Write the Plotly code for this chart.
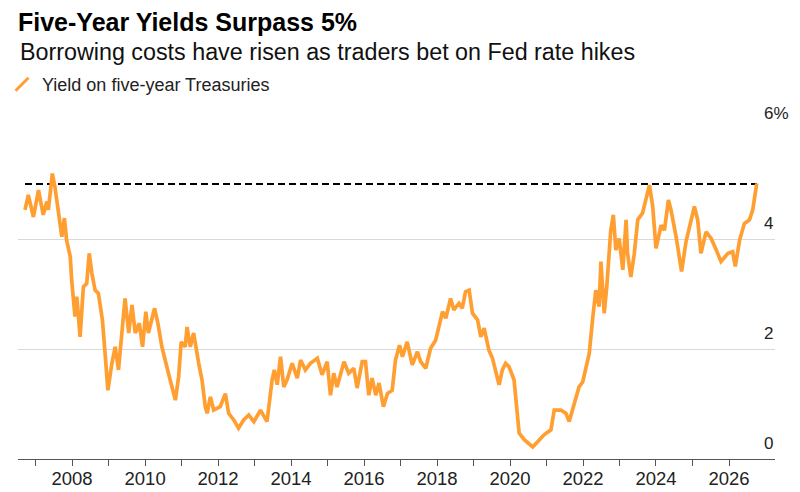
import pandas as pd
import plotly.graph_objects as go

# ---- data ----
decimal_years = [
    2006.71, 2006.80, 2006.94, 2007.08, 2007.21, 2007.31, 2007.35, 2007.46, 2007.53, 2007.62,
    2007.72, 2007.79, 2007.85, 2007.95, 2007.99, 2008.08, 2008.13, 2008.22, 2008.31, 2008.40,
    2008.47, 2008.54, 2008.63, 2008.72, 2008.83, 2008.91, 2008.98, 2009.09, 2009.18, 2009.27,
    2009.45, 2009.55, 2009.64, 2009.73, 2009.84, 2009.93, 2010.02, 2010.09, 2010.26, 2010.35,
    2010.46, 2010.64, 2010.83, 2010.92, 2010.99, 2011.10, 2011.15, 2011.24, 2011.33, 2011.47,
    2011.56, 2011.65, 2011.70, 2011.79, 2011.88, 2012.06, 2012.20, 2012.29, 2012.43, 2012.56,
    2012.70, 2012.84, 2012.98, 2013.16, 2013.34, 2013.48, 2013.54, 2013.62, 2013.71, 2013.80,
    2013.89, 2014.03, 2014.17, 2014.26, 2014.39, 2014.53, 2014.72, 2014.85, 2014.99, 2015.08,
    2015.17, 2015.26, 2015.45, 2015.58, 2015.72, 2015.81, 2015.95, 2016.04, 2016.13, 2016.22,
    2016.32, 2016.41, 2016.53, 2016.64, 2016.77, 2016.86, 2016.97, 2017.05, 2017.18, 2017.32,
    2017.46, 2017.55, 2017.69, 2017.82, 2017.96, 2018.15, 2018.24, 2018.37, 2018.46, 2018.60,
    2018.69, 2018.78, 2018.88, 2018.97, 2019.11, 2019.20, 2019.29, 2019.42, 2019.52, 2019.70,
    2019.79, 2019.88, 2019.97, 2020.11, 2020.20, 2020.25, 2020.39, 2020.62, 2020.75, 2020.93,
    2021.12, 2021.21, 2021.39, 2021.53, 2021.62, 2021.71, 2021.80, 2021.89, 2021.99, 2022.08,
    2022.17, 2022.26, 2022.35, 2022.44, 2022.49, 2022.58, 2022.65, 2022.76, 2022.83, 2022.90,
    2022.99, 2023.09, 2023.18, 2023.22, 2023.31, 2023.40, 2023.50, 2023.63, 2023.72, 2023.82,
    2023.91, 2024.00, 2024.14, 2024.23, 2024.34, 2024.41, 2024.55, 2024.64, 2024.70, 2024.82,
    2024.96, 2025.05, 2025.14, 2025.23, 2025.37, 2025.51, 2025.65, 2025.78, 2025.97, 2026.10,
    2026.17, 2026.29, 2026.42, 2026.56, 2026.65, 2026.70, 2026.76,
]
yields = [
    4.53, 4.80, 4.40, 4.89, 4.44, 4.68, 4.53, 5.19, 4.95, 4.53,
    4.04, 4.38, 3.98, 3.68, 3.25, 2.59, 2.95, 2.22, 3.13, 3.19,
    3.74, 3.38, 3.07, 3.01, 2.53, 1.86, 1.25, 1.74, 2.04, 1.62,
    2.92, 2.29, 2.80, 2.29, 2.47, 2.04, 2.68, 2.29, 2.74, 2.47,
    2.04, 1.56, 1.07, 1.50, 2.13, 2.04, 2.40, 2.04, 2.29, 1.74,
    1.44, 0.95, 0.83, 1.13, 0.89, 0.95, 1.19, 0.83, 0.71, 0.56,
    0.71, 0.80, 0.68, 0.89, 0.68, 1.44, 1.62, 1.35, 1.86, 1.31,
    1.44, 1.74, 1.47, 1.80, 1.62, 1.74, 1.83, 1.53, 1.77, 1.16,
    1.56, 1.31, 1.77, 1.56, 1.65, 1.29, 1.77, 1.77, 1.16, 1.47,
    1.16, 1.38, 0.95, 1.19, 1.25, 1.80, 2.07, 1.86, 2.13, 1.71,
    1.95, 1.77, 1.65, 2.01, 2.16, 2.68, 2.56, 2.92, 2.71, 2.83,
    2.74, 3.04, 3.07, 2.65, 2.53, 2.22, 2.38, 1.98, 1.83, 1.35,
    1.62, 1.74, 1.68, 1.44, 0.89, 0.47, 0.35, 0.22, 0.31, 0.44,
    0.53, 0.89, 0.89, 0.83, 0.68, 0.89, 1.10, 1.31, 1.40, 1.68,
    1.92, 2.53, 3.07, 2.77, 3.59, 2.65, 3.13, 4.16, 4.44, 3.80,
    4.01, 3.44, 4.35, 3.74, 3.31, 3.71, 4.35, 4.47, 4.71, 4.98,
    4.59, 3.83, 4.25, 4.16, 4.71, 4.53, 4.04, 3.68, 3.41, 3.95,
    4.31, 4.59, 4.35, 3.74, 4.13, 4.01, 3.80, 3.59, 3.74, 3.77,
    3.50, 3.98, 4.28, 4.35, 4.53, 4.77, 5.01,
]
threshold = 5
series_name = "Yield on five-year Treasuries"
y_tick_values = [0, 2, 4, 6]
y_tick_labels = ["0", "2", "4", "6%"]
x_tick_years = list(range(2007, 2027))
x_range = ["2006-07-09", "2027-04-06"]

title = "Five-Year Yields Surpass 5%"
subtitle = "Borrowing costs have risen as traders bet on Fed rate hikes"

ORANGE = "#FF9F32"
FONT = "Liberation Sans"


def to_date(dy):
    year = int(dy)
    start = pd.Timestamp(year=year, month=1, day=1)
    end = pd.Timestamp(year=year + 1, month=1, day=1)
    return start + (end - start) * (dy - year)


dates = [to_date(d) for d in decimal_years]
x_tick_vals = [pd.Timestamp(year=y, month=1, day=1) for y in x_tick_years]
x_tick_text = [str(y) if y % 2 == 0 else "" for y in x_tick_years]

fig = go.Figure()

# threshold dashed line
fig.add_trace(go.Scatter(
    x=[dates[0], dates[-1]], y=[threshold, threshold], mode="lines",
    line=dict(color="black", width=2, dash="7px,4px"),
    showlegend=False, hoverinfo="skip",
))

fig.add_trace(go.Scatter(
    x=dates, y=yields, mode="lines",
    line=dict(color=ORANGE, width=3.7),
    showlegend=False, name=series_name,
))

# legend entry with slash icon
fig.add_trace(go.Scatter(
    x=[None], y=[None], mode="markers", name=series_name,
    marker=dict(symbol="line-ne", size=13, color=ORANGE,
                line=dict(color=ORANGE, width=3)),
))

# the page body adds an 8px margin, so the figure is sized to fit the window
FIG_W, FIG_H = 792, 484
L, R, T, B = 10, 25, 121, 33
W = FIG_W - L - R
H = FIG_H - T - B

fig.update_layout(
    width=FIG_W, height=FIG_H,
    margin=dict(l=L, r=R, t=T, b=B, autoexpand=False),
    paper_bgcolor="white", plot_bgcolor="white",
    font=dict(family=FONT, color="#222", size=16),
    title=dict(text=f"<b>{title}</b>", x=L / FIG_W, xanchor="left",
               y=1 - 14 / FIG_H, yanchor="middle",
               font=dict(size=25, color="black", family=FONT)),
    annotations=[dict(
        text=subtitle, xref="paper", yref="paper",
        x=0, xanchor="left", y=(FIG_H - B - 43.5) / H, yanchor="middle",
        showarrow=False, font=dict(size=23.3, color="#111", family=FONT),
    )],
    legend=dict(x=(-6 - L) / W, xanchor="left", y=(FIG_H - B - 76.5) / H,
                yanchor="middle", font=dict(size=18, color="#222"),
                bgcolor="rgba(0,0,0,0)", borderwidth=0),
    showlegend=True,
    hovermode=False,
)

fig.update_xaxes(
    type="date", range=x_range, automargin=False,
    tickvals=x_tick_vals, ticktext=x_tick_text,
    showgrid=False, showline=True, linecolor="#555", linewidth=1,
    ticks="outside", ticklen=6, tickcolor="#555", tickwidth=1,
    ticklabelstandoff=-3,
    tickfont=dict(size=18.5, color="#222"), zeroline=False,
)

fig.update_yaxes(
    range=[0, 6], side="right", automargin=False,
    tickvals=y_tick_values, ticktext=y_tick_labels,
    showgrid=True, gridcolor="#d9d9d9", gridwidth=1,
    showline=False, zeroline=False, ticks="",
    ticklabelposition="outside top", ticklabelstandoff=-12,
    ticklabelshift=-4, ticklabeloverflow="allow",
    tickfont=dict(size=17, color="#222"),
)

fig.write_html("out.html")
